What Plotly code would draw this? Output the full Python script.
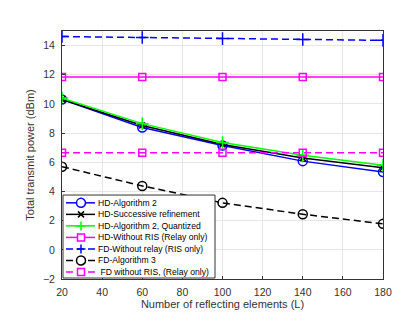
import plotly.graph_objects as go

L = [20, 60, 100, 140, 180]
hd_alg2 = [10.3, 8.38, 7.15, 6.08, 5.34]
hd_sr = [10.3, 8.52, 7.22, 6.3, 5.63]
hd_quant = [10.4, 8.65, 7.36, 6.48, 5.8]
hd_noris = [11.85, 11.85, 11.85, 11.85, 11.85]
fd_norelay = [14.62, 14.55, 14.48, 14.42, 14.36]
fd_alg3 = [5.7, 4.38, 3.22, 2.44, 1.78]
fd_noris = [6.65, 6.65, 6.65, 6.65, 6.65]

DASH = "7px,4px"
series = [
    ("HD-Algorithm 2", hd_alg2, "#0000FF", "solid", "circle"),
    ("HD-Successive refinement", hd_sr, "#000000", "solid", "x"),
    ("HD-Algorithm 2, Quantized", hd_quant, "#00FF00", "solid", "cross"),
    ("HD-Without RIS (Relay only)", hd_noris, "#FF00FF", "solid", "square"),
    ("FD-Without relay (RIS only)", fd_norelay, "#0000FF", DASH, "cross"),
    ("FD-Algorithm 3", fd_alg3, "#000000", DASH, "circle"),
    (" FD without RIS, (Relay only)", fd_noris, "#FF00FF", DASH, "square"),
]
SYM = {"circle": ("circle-open", 9), "x": ("x-thin-open", 6),
       "cross": ("cross-thin-open", 9), "square": ("square-open", 7)}

W, H = 415, 312
ML, MR, MT, MB = 54, 40, 23, 35
PW, PH = W - ML - MR, H - MT - MB

def px_x(px):
    return (px - ML) / PW

def px_y(py):
    return (H - MB - py) / PH

fig = go.Figure()
for name, y, c, dash, sym in series:
    s, ms = SYM[sym]
    fig.add_trace(go.Scatter(
        x=L, y=y, name=name, mode="lines+markers", showlegend=False,
        line=dict(color=c, width=1.5, dash=dash),
        marker=dict(symbol=s, size=ms, color=c, line=dict(color=c, width=1.5)),
    ))

# custom legend (compact, MATLAB-style)
shapes = []
annotations = []
shapes.append(dict(type="rect", xref="paper", yref="paper",
                   x0=px_x(55), x1=px_x(207), y0=px_y(276), y1=px_y(191),
                   fillcolor="white", line=dict(color="#333333", width=1), layer="above"))
row0, dy = 199, 11.8
for i, (name, y, c, dash, sym) in enumerate(series):
    ry = row0 + i * dy
    shapes.append(dict(type="line", xref="paper", yref="paper",
                       x0=px_x(58), x1=px_x(87), y0=px_y(ry), y1=px_y(ry),
                       line=dict(color=c, width=1.5, dash=dash), layer="above"))
    ax, ay = px_x(73), px_y(ry)
    base = dict(xref="paper", yref="paper", xsizemode="pixel", ysizemode="pixel",
                xanchor=ax, yanchor=ay, layer="above")
    if sym == "circle":
        shapes.append(dict(type="circle", x0=-4.5, x1=4.5, y0=-4.5, y1=4.5,
                           fillcolor="white", line=dict(color=c, width=1.5), **base))
    elif sym == "square":
        shapes.append(dict(type="rect", x0=-3.5, x1=3.5, y0=-3.5, y1=3.5,
                           fillcolor="white", line=dict(color=c, width=1.5), **base))
    elif sym == "cross":
        shapes.append(dict(type="path", path="M-4.5,0 L4.5,0 M0,-4.5 L0,4.5",
                           line=dict(color=c, width=1.5), **base))
    elif sym == "x":
        shapes.append(dict(type="path", path="M-3,-3 L3,3 M-3,3 L3,-3",
                           line=dict(color=c, width=1.5), **base))
    annotations.append(dict(xref="paper", yref="paper", x=px_x(88), y=px_y(ry),
                            xanchor="left", yanchor="middle", showarrow=False,
                            text=name, font=dict(size=8.6, color="#000000",
                                                 family="Liberation Sans, Arial")))

axis_common = dict(
    showgrid=True, gridcolor="#E6E6E6", gridwidth=1,
    showline=True, linecolor="#333333", linewidth=1, mirror=True,
    ticks="inside", ticklen=3, tickcolor="#333333",
    tickfont=dict(size=10.5, color="#333333", family="Liberation Sans, Arial"),
    zeroline=False,
)

fig.update_layout(
    width=W, height=H,
    margin=dict(l=ML, r=MR, t=MT, b=MB),
    plot_bgcolor="white", paper_bgcolor="white",
    font=dict(family="Liberation Sans, Arial", color="#333333"),
    xaxis=dict(range=[20, 180], tickvals=[20, 40, 60, 80, 100, 120, 140, 160, 180],
               ticklabelstandoff=3,
               title=dict(text="Number of reflecting elements (L)", font=dict(size=11), standoff=3),
               **axis_common),
    yaxis=dict(range=[-2, 15], tickvals=[-2, 0, 2, 4, 6, 8, 10, 12, 14],
               ticklabelstandoff=4,
               title=dict(text="Total transmit power (dBm)", font=dict(size=11), standoff=6),
               **axis_common),
    shapes=shapes, annotations=annotations,
    showlegend=False,
)

fig.write_html("out.html")
